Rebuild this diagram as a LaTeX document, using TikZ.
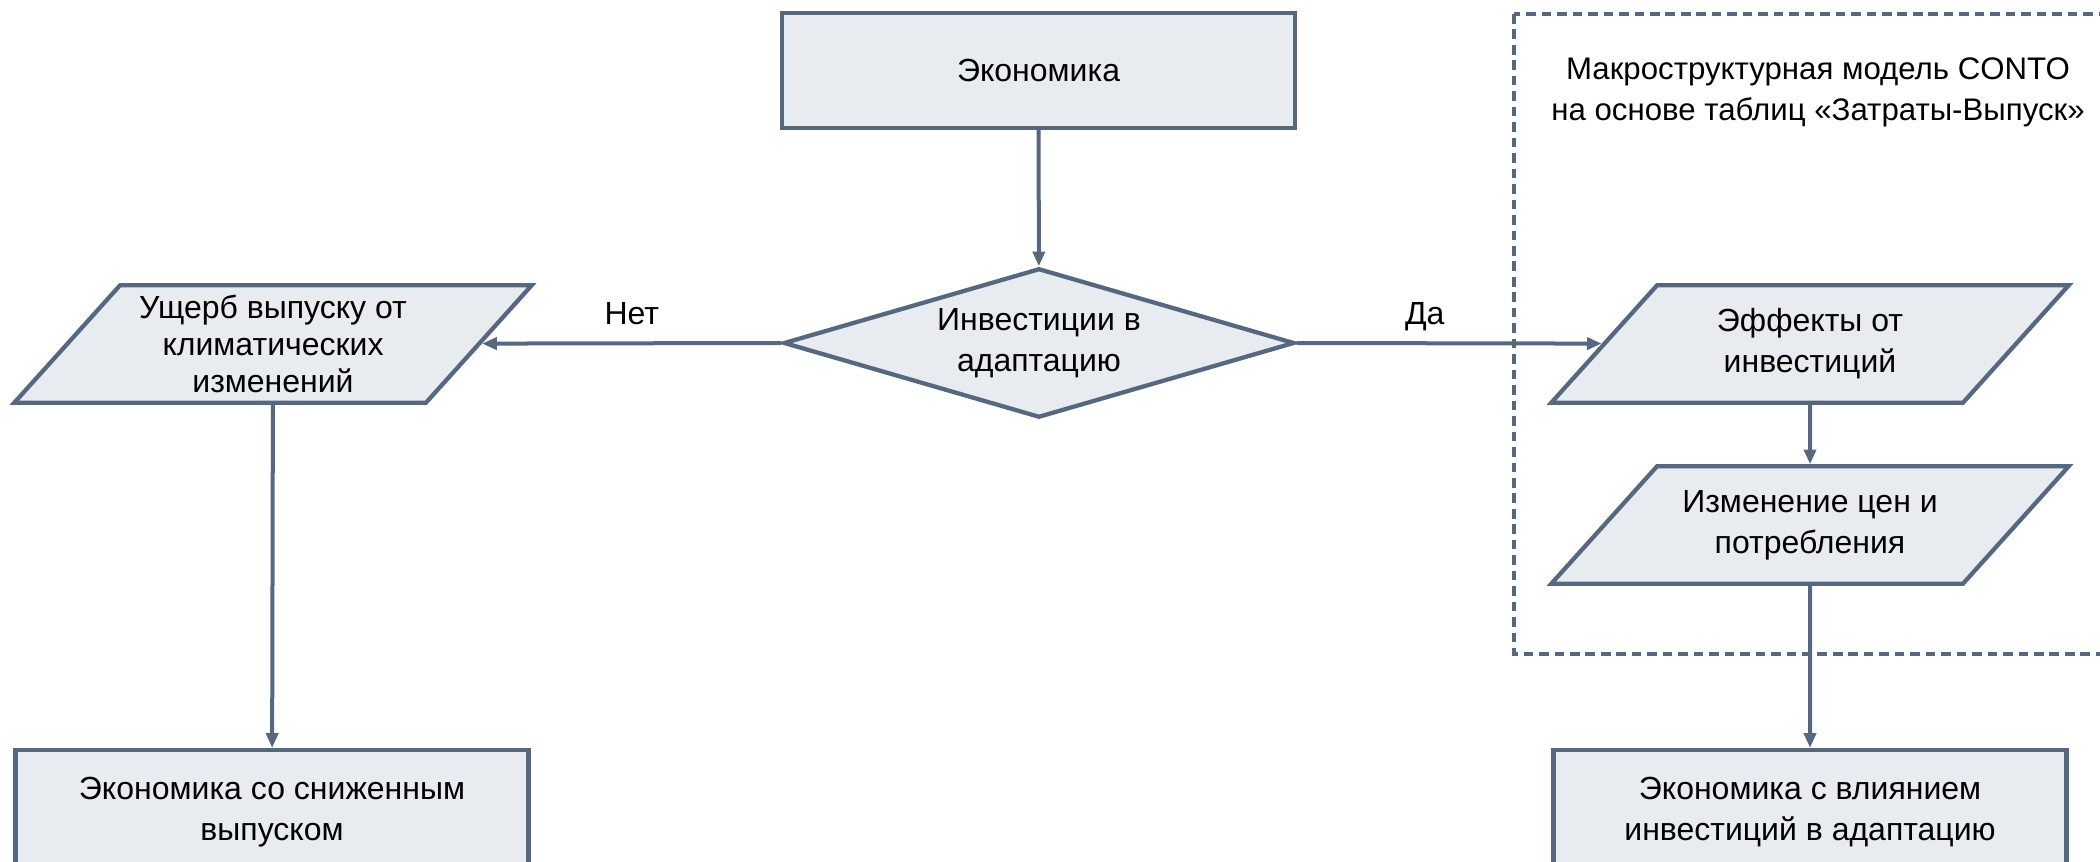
\documentclass[tikz,border=0pt]{standalone}
\usepackage{fontspec}
\setmainfont{Liberation Sans}
\usetikzlibrary{shapes.geometric,arrows.meta}
\definecolor{edgeblue}{RGB}{86,103,128}
\definecolor{boxfill}{RGB}{232,235,240}
% fixed-height text block, so every parallelogram gets the same slant
\newcommand{\iotext}[2][15.4pt]{\parbox[c][40pt][c]{110pt}{\centering\fontsize{12}{#1}\selectfont #2}}
\tikzset{
  procbox/.style={draw=edgeblue, fill=boxfill, line width=1.6pt, minimum width=192.4pt, minimum height=43pt, inner sep=0pt, align=center},
  iobox/.style={trapezium, trapezium left angle=48, trapezium right angle=132, trapezium stretches body, draw=edgeblue, fill=boxfill, line width=1.6pt, minimum width=194pt, inner xsep=0pt, inner ysep=2pt},
  decbox/.style={diamond, aspect=3.4, draw=edgeblue, fill=boxfill, line width=1.6pt, minimum width=191.6pt, minimum height=56pt, inner sep=0pt, align=center},
  flow/.style={draw=edgeblue, line width=1.5pt, -{Triangle[length=5.5pt,width=4.5pt]}},
  every node/.style={font=\fontsize{12}{15.4}\selectfont}
}
\begin{document}
\begin{tikzpicture}[x=0.375pt,y=0.375pt,yscale=-1,xscale=1]
\useasboundingbox (0,0) rectangle (2100,862);
\clip (0,0) rectangle (2100,862);

%Dashed frame [CONTO]
\draw [edgeblue, line width=1.3pt, dash pattern=on 3.6pt off 2.2pt] (1514,14) rectangle (2130,654) ;
% Text Node
\node (conto) at (1818,92) [align=center, font=\fontsize{11.7}{15.4}\selectfont] {Макроструктурная модель CONTO\\на основе таблиц «Затраты-Выпуск»};

%Shape: Rectangle
\node (econ) at (1038.5,70.5) [procbox] {Экономика};
%Shape: Diamond
\node (invest) at (1039,343) [decbox] {Инвестиции в\\адаптацию};
%Shape: Parallelogram
\node (loss) at (273,344) [iobox] {\iotext[14pt]{Ущерб выпуску от\\климатических\\изменений}};
%Shape: Parallelogram
\node (effect) at (1810,344) [iobox] {\iotext{Эффекты от\\инвестиций}};
%Shape: Parallelogram
\node (prices) at (1810,525) [iobox] {\iotext{Изменение цен и\\потребления}};
%Shape: Rectangle
\node (lowecon) at (272,812) [procbox, minimum height=46.5pt] {Экономика со сниженным\\выпуском};
%Shape: Rectangle
\node (adaptecon) at (1810,812) [procbox, minimum height=46.5pt] {Экономика с влиянием\\инвестиций в адаптацию};

%Straight Lines
\draw [flow] (econ) -- (invest) ;
\draw [flow] (invest.west) -- (loss) node [midway, above=3pt, text depth=0pt] {Нет} ;
\draw [flow] (invest.east) -- (effect) node [pos=0.42, above=3pt, text depth=0pt] {Да} ;
\draw [flow] (loss) -- (lowecon) ;
\draw [flow] (effect) -- (prices) ;
\draw [flow] (prices) -- (adaptecon) ;

\end{tikzpicture}
\end{document}
